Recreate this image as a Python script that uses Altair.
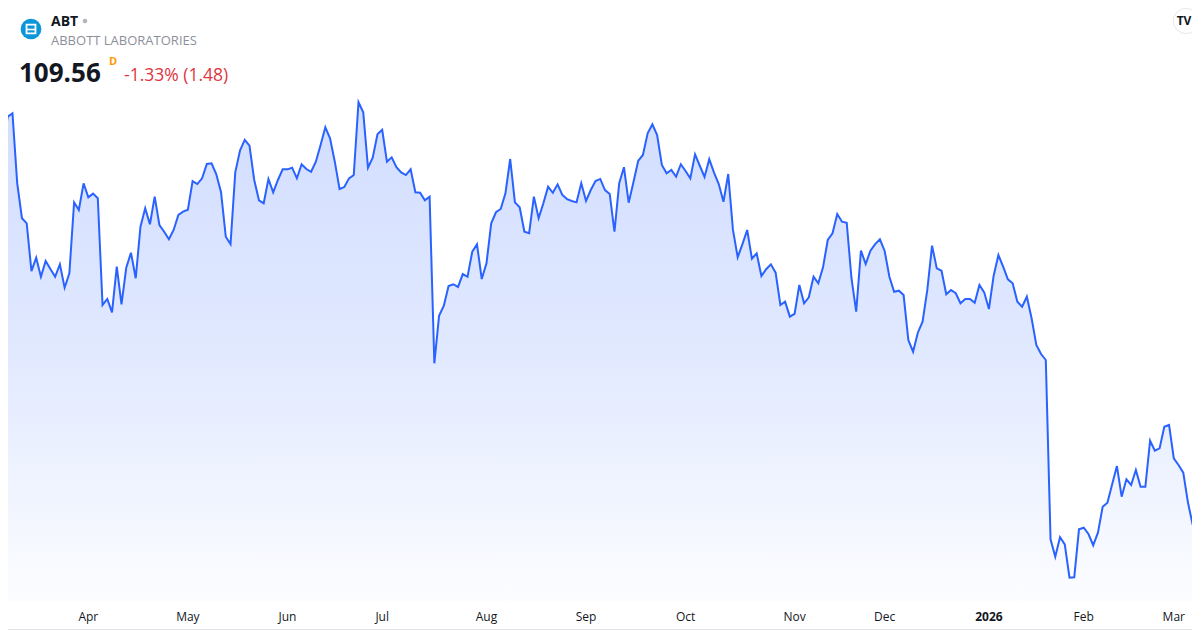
import altair as alt
import pandas as pd

# ---------------- data ----------------
ticker = "ABT"
company = "ABBOTT LABORATORIES"
last_close = 109.56
change_abs = -1.48
change_pct = -1.33
interval = "D"

# daily closes, 6 Mar 2025 .. 6 Mar 2026 (trading-day index)
prices = [
    134.78, 136.78, 137.01, 132.34, 130.01, 129.67, 126.49, 127.38, 126.11, 127.16,
    126.63, 126.11, 126.94, 125.38, 126.34, 131.07, 130.56, 132.34, 131.41, 131.65,
    131.34, 124.23, 124.63, 123.74, 126.78, 124.27, 126.71, 127.71, 126.01, 129.45,
    130.67, 129.61, 131.45, 129.56, 129.11, 128.61, 129.23, 130.23, 130.45, 130.58,
    132.49, 132.29, 132.67, 133.63, 133.67, 132.94, 131.74, 128.78, 128.29, 133.07,
    134.53, 135.23, 134.85, 132.56, 131.21, 131.01, 132.63, 131.74, 132.56, 133.27,
    133.27, 133.38, 132.67, 133.61, 133.29, 133.11, 133.78, 134.89, 136.07, 135.34,
    133.78, 131.96, 132.09, 132.67, 132.89, 137.74, 137.07, 133.38, 134.05, 135.61,
    135.91, 133.78, 134.07, 133.41, 133.07, 132.89, 133.27, 131.74, 131.71, 131.21,
    131.45, 120.34, 123.51, 124.18, 125.49, 125.61, 125.43, 126.29, 126.11, 127.78,
    128.27, 125.96, 127.01, 129.67, 130.41, 130.63, 131.67, 133.96, 131.07, 130.74,
    129.11, 129.01, 131.45, 130.01, 131.01, 132.11, 131.71, 132.27, 131.56, 131.29,
    131.16, 131.07, 132.34, 131.16, 131.89, 132.49, 132.63, 131.89, 131.63, 129.11,
    132.34, 133.41, 131.05, 132.41, 133.83, 134.23, 135.67, 136.27, 135.56, 133.56,
    133.01, 133.23, 132.78, 133.61, 133.16, 132.67, 134.27, 133.51, 132.76, 133.95,
    133.05, 132.29, 131.11, 132.96, 129.23, 127.41, 128.29, 129.23, 127.31, 127.67,
    126.16, 126.61, 126.94, 126.38, 124.23, 124.45, 123.45, 123.63, 125.56, 124.34,
    124.74, 126.11, 125.67, 126.74, 128.56, 129.01, 130.29, 129.78, 129.71, 126.01,
    123.78, 127.85, 126.96, 127.85, 128.29, 128.61, 127.83, 126.11, 125.11, 125.18,
    124.89, 121.89, 121.11, 122.38, 123.11, 125.23, 128.18, 126.67, 126.51, 124.94,
    125.23, 125.01, 124.34, 124.63, 124.63, 124.38, 125.56, 125.07, 123.96, 126.18,
    127.56, 126.78, 125.94, 125.67, 124.45, 124.11, 124.78, 123.34, 121.56, 120.96,
    120.56, 108.61, 107.45, 108.74, 108.27, 106.05, 106.07, 109.27, 109.38, 108.96,
    108.21, 109.05, 110.78, 111.05, 112.27, 113.49, 111.45, 112.61, 112.23, 113.23,
    112.11, 112.11, 115.18, 114.51, 114.67, 116.11, 116.23, 114.01, 113.56, 113.05,
    111.04, 109.56,
]

# time-scale labels at the first trading day of each month
month_labels = ["Apr", "May", "Jun", "Jul", "Aug", "Sep", "Oct", "Nov", "Dec", "2026", "Feb", "Mar"]
month_index = [18, 39, 60, 80, 102, 123, 144, 167, 186, 208, 228, 247]
month_bold = [False, False, False, False, False, False, False, False, False, True, False, False]

# ---------------- chart ----------------
FONT = "Open Sans"
W, H = 1200, 630
LINE = "#2962FF"

x_scale = alt.Scale(domain=[-0.633, 252.53], nice=False, zero=False)
y_scale = alt.Scale(domain=[102.56, 144.56], nice=False, zero=False)
base_price = 104.49

df = pd.DataFrame({"i": list(range(len(prices))), "price": prices})
mdf = pd.DataFrame({"label": month_labels, "i": month_index, "bold": month_bold})
one = pd.DataFrame({"k": [0]})

area = alt.Chart(df).mark_area(
    line={"color": LINE, "strokeWidth": 2},
    color=alt.Gradient(
        gradient="linear",
        stops=[
            alt.GradientStop(color="rgba(41,98,255,0.30)", offset=0),
            alt.GradientStop(color="rgba(41,98,255,0.20)", offset=0.5),
            alt.GradientStop(color="rgba(41,98,255,0.02)", offset=1),
        ],
        x1=1, x2=1, y1=0, y2=1,
    ),
).encode(
    x=alt.X("i:Q", scale=x_scale, axis=None),
    y=alt.Y("price:Q", scale=y_scale, axis=None),
    y2=alt.datum(base_price),
)


def month_layer(bold):
    return alt.Chart(mdf).transform_filter(
        "datum.bold" if bold else "!datum.bold"
    ).mark_text(
        font=FONT, fontSize=12, color="#131722", baseline="middle", align="center",
        fontWeight="bold" if bold else "normal",
    ).encode(
        x=alt.X("i:Q", scale=x_scale, axis=None),
        y=alt.value(617),
        text="label:N",
    )


def txt(text, x, y, size, color, weight="normal", align="left", baseline="alphabetic"):
    return alt.Chart(one).mark_text(
        text=text, font=FONT, fontSize=size, color=color, fontWeight=weight,
        align=align, baseline=baseline,
    ).encode(x=alt.value(x), y=alt.value(y))


logo = alt.Chart(one).mark_circle(size=430, color="#0C96DA", opacity=1).encode(
    x=alt.value(31), y=alt.value(29))
logo_glyph = alt.Chart(one).mark_point(
    shape="square", size=80, filled=False, stroke="white", strokeWidth=1.8, opacity=1
).encode(x=alt.value(31), y=alt.value(29))
logo_bar = alt.Chart(one).mark_rule(color="white", strokeWidth=1.6).encode(
    x=alt.value(26.5), x2=alt.value(35.5), y=alt.value(29.5))

status_dot = alt.Chart(one).mark_circle(size=22, color="#b2b5be", opacity=1).encode(
    x=alt.value(85), y=alt.value(21))

change_text = f"{change_pct:.2f}% ({abs(change_abs):.2f})"

tv_badge = alt.Chart(one).mark_circle(size=640, color="white", stroke="#e6e8ee",
                                      strokeWidth=1, opacity=1).encode(
    x=alt.value(1186), y=alt.value(21))

border_b = alt.Chart(one).mark_rule(color="#e0e3eb", strokeWidth=1).encode(
    x=alt.value(0), x2=alt.value(1200), y=alt.value(629.5))

chart = alt.layer(
    area,
    month_layer(False),
    month_layer(True),
    logo, logo_glyph, logo_bar,
    txt(ticker, 51, 26, 14, "#131722", "bold"),
    status_dot,
    txt(company, 51, 45, 13, "#8C8F99"),
    txt(f"{last_close:.2f}", 19, 82, 26, "#131722", "bold"),
    txt(interval, 109, 65, 11, "#FF9800", "bold"),
    txt(change_text, 124, 81, 17.5, "#E0363F"),
    tv_badge,
    txt("TV", 1184, 21, 12, "#131722", "bold", "center", "middle"),
    border_b,
).properties(
    width=W,
    height=H,
    padding={"left": -8, "top": -8, "right": -8, "bottom": 0},
    autosize=alt.AutoSizeParams(type="none"),
    background="white",
).configure_view(stroke=None)

chart.save("out.html", embed_options={"renderer": "svg", "actions": False})
